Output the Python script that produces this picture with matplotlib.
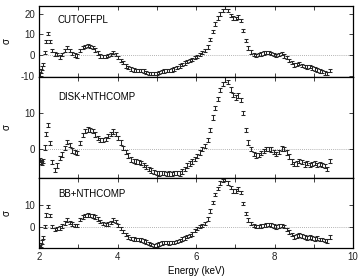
import matplotlib
matplotlib.use('Agg')
import matplotlib.pyplot as plt
from matplotlib.ticker import MultipleLocator

plt.rcParams['font.family'] = ['Liberation Sans', 'DejaVu Sans']
plt.rcParams['axes.unicode_minus'] = False

energy = [2.02, 2.05, 2.08, 2.11, 2.15, 2.19, 2.23, 2.27,
          2.330, 2.395, 2.460, 2.525, 2.590, 2.655, 2.720, 2.785, 2.850, 2.915,
          2.980, 3.045, 3.110, 3.175, 3.240, 3.305, 3.370, 3.435, 3.500, 3.565,
          3.630, 3.695, 3.760, 3.825, 3.890, 3.955, 4.020, 4.085, 4.150, 4.215,
          4.280, 4.345, 4.410, 4.475, 4.540, 4.605, 4.670, 4.735, 4.800, 4.865,
          4.930, 4.995, 5.060, 5.125, 5.190, 5.255, 5.320, 5.385, 5.450, 5.515,
          5.580, 5.645, 5.710, 5.775, 5.840, 5.905, 5.970, 6.035, 6.100, 6.165,
          6.230, 6.295, 6.360, 6.425, 6.490, 6.555, 6.620, 6.685, 6.750, 6.815,
          6.880, 6.945, 7.010, 7.075, 7.140, 7.205, 7.270, 7.335, 7.400, 7.465,
          7.530, 7.595, 7.660, 7.725, 7.790, 7.855, 7.920, 7.985, 8.050, 8.115,
          8.180, 8.245, 8.310, 8.375, 8.440, 8.505, 8.570, 8.635, 8.700, 8.765,
          8.830, 8.895, 8.960, 9.025, 9.090, 9.155, 9.220, 9.285, 9.350, 9.415]

sigma_cutoffpl = [-8.8, -7.5, -6.0, -4.2, 1.5, 6.8, 10.6, 6.8,
                  2.4, 0.6, 0.3, -0.8, 0.5, 2.5, 3.8, 2.2, 1.0, 0.2,
                  -0.3, 2.5, 3.8, 4.4, 4.6, 4.4, 3.8, 2.6, 1.2, -0.2,
                  -0.6, -0.5, 0.0, 0.5, 1.3, 0.5, -1.0, -2.4, -3.5, -5.0,
                  -5.8, -6.5, -7.0, -7.1, -7.2, -7.1, -7.4, -8.0, -8.6, -8.7,
                  -8.7, -8.6, -8.3, -7.6, -7.4, -7.1, -7.1, -7.0, -6.4, -5.8,
                  -5.0, -4.2, -3.6, -3.0, -2.4, -1.8, -0.9, -0.4, 0.5, 1.3,
                  2.4, 4.0, 7.5, 11.5, 15.0, 17.8, 19.8, 21.5, 22.8, 21.3,
                  19.0, 17.8, 17.5, 18.3, 16.8, 12.0, 7.0, 3.5, 1.6, 0.5,
                  0.1, 0.3, 0.7, 1.1, 1.3, 1.3, 0.9, 0.5, 0.0, 0.5,
                  1.0, -0.3, -1.0, -2.3, -3.5, -4.6, -4.3, -4.0, -4.7, -5.2,
                  -5.6, -5.2, -6.0, -6.5, -6.9, -7.5, -7.6, -8.4, -8.5, -7.1]

sigma_disk = [-3.0, -3.6, -3.8, -3.4, 0.4, 4.2, 6.6, 1.6,
              -3.6, -5.8, -4.6, -2.5, -1.5, 0.2, 1.9, 1.0, -0.4, -0.9,
              -1.2, 1.6, 3.8, 5.0, 5.4, 5.3, 5.0, 4.0, 3.0, 2.5,
              2.4, 2.8, 3.6, 4.2, 4.8, 4.2, 3.0, 1.8, 0.3, -0.8,
              -1.8, -2.9, -3.4, -3.5, -3.6, -3.8, -4.4, -5.0, -5.5, -6.0,
              -6.3, -6.6, -6.8, -6.6, -6.7, -6.9, -6.8, -6.9, -6.7, -6.6,
              -6.8, -6.2, -5.6, -4.6, -4.0, -3.5, -2.8, -1.9, -1.0, -0.1,
              0.8, 2.5, 5.3, 8.7, 11.3, 13.8, 16.3, 18.0, 19.2, 18.5,
              16.4, 14.9, 14.2, 14.8, 13.6, 10.0, 5.2, 1.8, 0.0, -1.4,
              -1.8, -1.7, -1.2, -0.5, -0.1, -0.1, -0.2, -0.8, -1.4, -0.9,
              0.1, -0.1, -1.0, -2.1, -3.5, -4.2, -4.0, -3.4, -3.7, -4.3,
              -3.9, -4.5, -4.1, -3.8, -4.5, -4.1, -4.5, -4.8, -5.5, -3.4]

sigma_bb = [-9.2, -8.3, -7.0, -5.0, 0.0, 5.3, 9.1, 5.0,
            0.2, -1.2, -0.9, -0.6, 0.3, 1.8, 3.0, 1.9, 1.2, 0.6,
            0.5, 3.3, 4.4, 5.0, 5.3, 5.2, 4.9, 4.4, 3.4, 2.4,
            1.5, 1.1, 1.3, 2.0, 3.0, 2.4, 0.6, -0.8, -2.2, -3.5,
            -4.6, -5.4, -5.7, -5.8, -5.9, -6.0, -6.4, -7.0, -7.6, -8.1,
            -8.5, -8.4, -7.9, -7.4, -7.1, -7.3, -7.4, -7.3, -7.1, -6.8,
            -6.3, -5.7, -5.2, -4.5, -3.9, -3.3, -1.8, -0.8, 0.0, 0.6,
            1.5, 3.4, 7.2, 11.1, 14.6, 17.5, 19.8, 21.0, 21.5, 20.0,
            17.8, 16.2, 16.3, 17.2, 15.5, 10.5, 6.0, 3.0, 1.4, 0.5,
            0.1, 0.0, 0.3, 0.6, 0.8, 0.9, 0.8, 0.3, -0.2, 0.3,
            0.6, 0.0, -1.2, -2.4, -3.5, -4.6, -4.3, -3.8, -4.3, -4.8,
            -5.2, -4.6, -5.1, -5.5, -5.1, -5.8, -5.8, -6.3, -6.6, -4.8]

model_names = ["CUTOFFPL", "DISK+NTHCOMP", "BB+NTHCOMP"]
sigma_err = [0.8, 0.6, 0.8]
x_ticks = [2, 4, 6, 8, 10]
y_ticks = [[-10, 0, 10, 20], [0, 10], [0, 10]]
y_limits = [(-10.3, 23.6), (-7.9, 19.9), (-9.7, 22.4)]

W, H = 358.0, 277.0
left, right = 39 / W, 353 / W
edges_px = [6, 77, 177.5, 248]

fig = plt.figure(figsize=(W / 100, H / 100), dpi=100)
series = [sigma_cutoffpl, sigma_disk, sigma_bb]

for i in range(3):
    top = 1 - edges_px[i] / H
    bot = 1 - edges_px[i + 1] / H
    ax = fig.add_axes([left, bot, right - left, top - bot])
    ax.errorbar(energy, series[i], yerr=sigma_err[i], fmt='none',
                ecolor='#262626', elinewidth=0.75, capsize=1.3, capthick=0.75)
    ax.axhline(0, color='#9a9a9a', lw=0.6, ls=(0, (1, 1.5)), zorder=0)
    ax.set_xlim(2, 10)
    ax.set_ylim(*y_limits[i])
    ax.set_yticks(y_ticks[i])
    ax.set_xticks(x_ticks)
    ax.xaxis.set_minor_locator(MultipleLocator(1))
    ax.tick_params(which='both', direction='in', top=True, right=True,
                   length=3, width=0.6, labelsize=7, pad=3, colors='#222222')
    for sp in ax.spines.values():
        sp.set_linewidth(0.9)
    if i < 2:
        ax.tick_params(labelbottom=False)
    ymid = 1 - (edges_px[i] + edges_px[i + 1]) / 2 / H
    fig.text(7 / W, ymid, '\u03c3', rotation=90, ha='center', va='center', fontsize=7)

label_y_px = [20, 97, 194]
for name, ypx in zip(model_names, label_y_px):
    fig.text(58 / W, 1 - ypx / H, name, ha='left', va='center', fontsize=7)

fig.text(196 / W, 1.0 / H, 'Energy (keV)', ha='center', va='bottom', fontsize=7)

fig.savefig('out.png', dpi=100)
